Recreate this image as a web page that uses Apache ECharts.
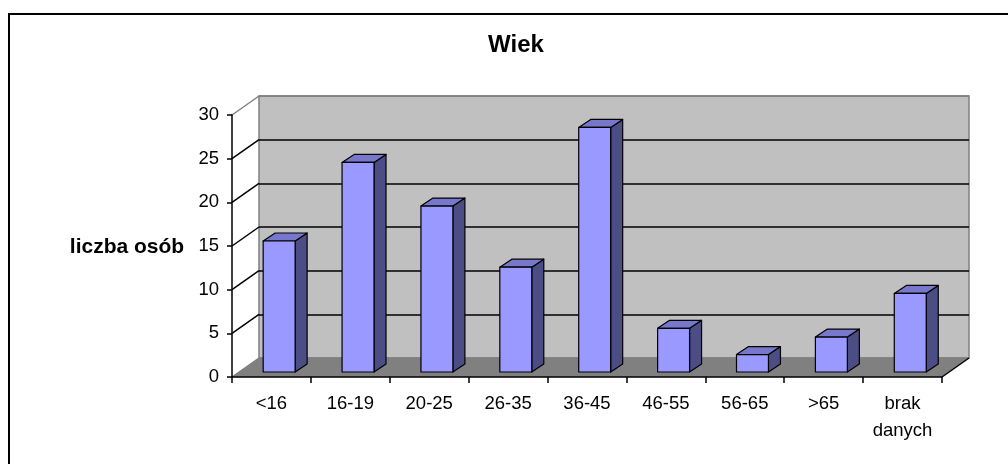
<!DOCTYPE html>
<html>
<head>
<meta charset="utf-8">
<script src="https://cdn.jsdelivr.net/npm/echarts@6/dist/echarts.min.js"></script>
<style>
html,body{margin:0;padding:0;background:#fff;}
#chart{width:1008px;height:464px;}
</style>
</head>
<body>
<div id="chart"></div>
<script>
const categories = ['<16', '16-19', '20-25', '26-35', '36-45', '46-55', '56-65', '>65', 'brak\ndanych'];
const counts = [15, 24, 19, 12, 28, 5, 2, 4, 9];
const yTicks = [0, 5, 10, 15, 20, 25, 30];
const titleText = 'Wiek';
const yName = 'liczba osób';

const FONT = '"Liberation Sans", Arial, sans-serif';
// depth of the 3D box (styling)
const DX = 27, DY = -19;
// bar placement in depth and bar depth (styling)
const OX = 7.7, OY = -5, BDX = 12, BDY = -8;

const chart = echarts.init(document.getElementById('chart'), null, {renderer: 'canvas'});

const option = {
  animation: false,
  backgroundColor: '#fff',
  graphic: [
    {type: 'rect', shape: {x: 9, y: 14, width: 1100, height: 500}, style: {fill: 'none', stroke: '#000', lineWidth: 2}, z: 100},
    {type: 'text', x: 516, y: 45, style: {text: titleText, font: 'bold 24px ' + FONT, fill: '#000', align: 'center', verticalAlign: 'middle'}, z: 100},
    {type: 'text', x: 127, y: 247, style: {text: yName, font: 'bold 21px ' + FONT, fill: '#000', align: 'center', verticalAlign: 'middle'}, z: 100}
  ],
  grid: [
    {left: 232, top: 115, width: 710, height: 262, show: false},
    {left: 259, top: 96, width: 710, height: 262, show: true, backgroundColor: '#C0C0C0', borderColor: '#808080', borderWidth: 1.5}
  ],
  xAxis: [
    {
      type: 'category', gridIndex: 0, data: categories, z: 10,
      axisLine: {lineStyle: {color: '#000', width: 1.5}},
      axisTick: {show: true, length: 6, inside: false, lineStyle: {color: '#000', width: 1.5}},
      axisLabel: {color: '#000', fontFamily: FONT, fontSize: 18.5, margin: 13, lineHeight: 27, interval: 0}
    },
    {
      type: 'category', gridIndex: 1, data: categories,
      axisLine: {show: false}, axisTick: {show: false}, axisLabel: {show: false}
    }
  ],
  yAxis: [
    {
      type: 'value', gridIndex: 0, min: 0, max: 30, interval: 5, z: 10,
      axisLine: {show: true, lineStyle: {color: '#000', width: 1.5}},
      axisTick: {show: true, length: 5, inside: false, lineStyle: {color: '#000', width: 1.5}},
      axisLabel: {color: '#000', fontFamily: FONT, fontSize: 18.5, margin: 13},
      splitLine: {show: false}
    },
    {
      type: 'value', gridIndex: 1, min: 0, max: 30, interval: 5,
      axisLine: {show: false}, axisTick: {show: false}, axisLabel: {show: false},
      splitLine: {show: true, lineStyle: {color: ['#808080', '#000', '#000', '#000', '#000', '#000', '#808080'], width: 1.5}}
    }
  ],
  series: [
    {
      // floor
      type: 'custom', xAxisIndex: 0, yAxisIndex: 0, z: 1, clip: false, silent: true,
      data: [[0, 0]],
      renderItem: function (params, api) {
        const cs = params.coordSys;
        const x0 = cs.x, x1 = cs.x + cs.width, yb = api.coord([0, 0])[1];
        return {
          type: 'group',
          children: [
            {type: 'polygon', shape: {points: [[x0, yb], [x1, yb], [x1 + DX, yb + DY], [x0 + DX, yb + DY]]}, style: {fill: '#808080', stroke: null}},
            {type: 'line', shape: {x1: x1, y1: yb, x2: x1 + DX, y2: yb + DY}, style: {stroke: '#000', lineWidth: 1.5}}
          ]
        };
      }
    },
    {
      // side-wall grid lines
      type: 'custom', xAxisIndex: 0, yAxisIndex: 0, z: 2, clip: false, silent: true,
      data: yTicks.map(v => [0, v]),
      renderItem: function (params, api) {
        const cs = params.coordSys;
        const v = api.value(1);
        const y = api.coord([0, v])[1];
        const x = cs.x;
        const edge = (v === yTicks[0] || v === yTicks[yTicks.length - 1]);
        return {type: 'line', shape: {x1: x, y1: y, x2: x + DX, y2: y + DY}, style: {stroke: edge ? '#808080' : '#000', lineWidth: 1.5}};
      }
    },
    {
      // 3D bars
      type: 'custom', xAxisIndex: 0, yAxisIndex: 0, z: 3, clip: false,
      data: counts.map((v, i) => [i, v]),
      renderItem: function (params, api) {
        const i = api.value(0), v = api.value(1);
        const base = api.coord([i, 0]);
        const top = api.coord([i, v]);
        const band = api.size([1, 0])[0];
        const w = band * 0.405;
        const xl = base[0] + OX - w / 2, xr = xl + w;
        const yb = base[1] + OY, yt = top[1] + OY;
        const st = {stroke: '#000', lineWidth: 1.2, lineJoin: 'round'};
        return {
          type: 'group',
          children: [
            {type: 'polygon', shape: {points: [[xr, yt], [xr + BDX, yt + BDY], [xr + BDX, yb + BDY], [xr, yb]]}, style: Object.assign({fill: '#4D4D85'}, st)},
            {type: 'polygon', shape: {points: [[xl, yt], [xl + BDX, yt + BDY], [xr + BDX, yt + BDY], [xr, yt]]}, style: Object.assign({fill: '#7777CC'}, st)},
            {type: 'rect', shape: {x: xl, y: yt, width: w, height: yb - yt}, style: Object.assign({fill: '#9999FF'}, st)}
          ]
        };
      }
    }
  ]
};
chart.setOption(option);
</script>
</body>
</html>
